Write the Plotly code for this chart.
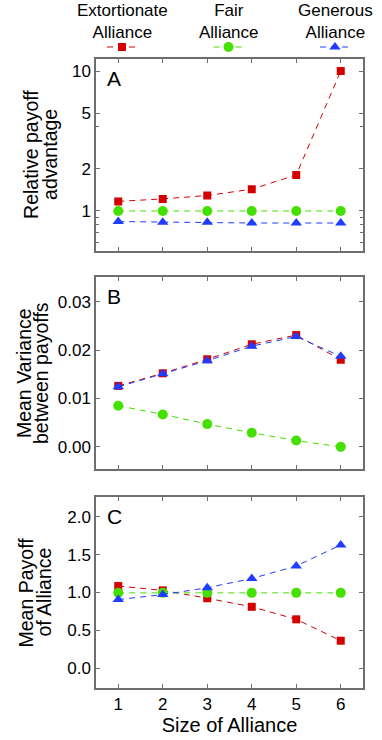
import plotly.graph_objects as go

# alliance sizes
sizes = [1, 2, 3, 4, 5, 6]

# panel A: relative payoff advantage (log scale)
adv_extort = [1.17, 1.22, 1.29, 1.43, 1.81, 10.0]
adv_fair = [1.0, 1.0, 1.0, 1.0, 1.0, 1.0]
adv_generous = [0.84, 0.83, 0.83, 0.82, 0.82, 0.82]

# panel B: mean variance between payoffs
var_extort = [0.0126, 0.0152, 0.0181, 0.0212, 0.0231, 0.0180]
var_fair = [0.0085, 0.0067, 0.0047, 0.0029, 0.0013, 0.0000]
var_generous = [0.0124, 0.0151, 0.0178, 0.0208, 0.0228, 0.0187]

# panel C: mean payoff of alliance
pay_extort = [1.085, 1.028, 0.924, 0.811, 0.646, 0.364]
pay_fair = [0.995, 0.995, 0.995, 0.995, 0.995, 0.995]
pay_generous = [0.907, 0.972, 1.063, 1.184, 1.349, 1.627]

series_names = ["Extortionate<br>Alliance", "Fair<br>Alliance", "Generous<br>Alliance"]
y_titles = [("Relative payoff", "advantage"),
            ("Mean Variance", "between payoffs"),
            ("Mean Payoff", "of Alliance")]
colors = ["#d40000", "#44e000", "#1f3cff"]
symbols = ["square", "circle", "triangle-up"]
msizes = [8, 10, 10]
legend_ids = ["legend", "legend2", "legend3"]

panels = [
    ("y", [adv_extort, adv_fair, adv_generous]),
    ("y2", [var_extort, var_fair, var_generous]),
    ("y3", [pay_extort, pay_fair, pay_generous]),
]

fig = go.Figure()

for p, (yref, data) in enumerate(panels):
    xref = "x" if p == 0 else "x%d" % (p + 1)
    for i, vals in enumerate(data):
        fig.add_trace(go.Scatter(
            x=sizes,
            y=vals,
            xaxis=xref,
            yaxis=yref,
            mode="lines+markers",
            name=" ",
            legend=legend_ids[i],
            showlegend=(p == 0),
            line=dict(color=colors[i], width=1, dash="6px,5px"),
            marker=dict(symbol=symbols[i], size=msizes[i], color=colors[i]),
            hovertemplate=series_names[i].replace("<br>", " ") + ": %{y}<extra></extra>",
        ))

font_family = "Liberation Sans, Arial, sans-serif"
frame = dict(
    showline=True, linecolor="#6e6e6e", linewidth=1.5, mirror="ticks",
    ticks="inside", ticklen=4, tickcolor="#6e6e6e", tickwidth=1.2,
    showgrid=False, zeroline=False, automargin=False,
    tickfont=dict(size=17, color="black"),
)

xcommon = dict(range=[0.5, 6.5], tickvals=sizes, **frame)

# one small legend per series, text is drawn above it as annotation
legends = {}
for i, lid in enumerate(legend_ids):
    legends[lid] = dict(
        orientation="h", x=(102 + 106.5 * i - 96) / 267, xanchor="left",
        y=1 + (59 - 47) / 629, yanchor="middle",
        font=dict(size=12), bgcolor="rgba(0,0,0,0)",
    )

fig.update_layout(
    width=382, height=740,
    margin=dict(l=96, r=19, t=59, b=52),
    paper_bgcolor="white", plot_bgcolor="white",
    font=dict(family=font_family, color="black"),
    xaxis=dict(domain=[0, 1], anchor="y", showticklabels=False, **xcommon),
    xaxis2=dict(domain=[0, 1], anchor="y2", showticklabels=False, **xcommon),
    xaxis3=dict(domain=[0, 1], anchor="y3", showticklabels=True,
                title=dict(text="Size of Alliance", font=dict(size=20), standoff=0),
                **xcommon),
    yaxis=dict(domain=[0.695, 1.0], anchor="x", type="log",
               range=[-0.285, 1.086], tickvals=[1, 2, 5, 10], ticktext=["1", "2", "5", "10"],
               minor=dict(tickvals=[0.6, 0.7, 0.8, 0.9, 4], ticks="inside", ticklen=3,
                          tickcolor="#6e6e6e"),
               **frame),
    yaxis2=dict(domain=[0.348, 0.6534], anchor="x2",
                range=[-0.0046, 0.0351], tickvals=[0, 0.01, 0.02, 0.03], tickformat=".2f",
                **frame),
    yaxis3=dict(domain=[0, 0.3037], anchor="x3",
                range=[-0.26, 2.26], tickvals=[0, 0.5, 1.0, 1.5, 2.0], tickformat=".1f",
                **frame),
    showlegend=True,
    **legends,
)

# legend labels above the legend symbols
for i, name in enumerate(series_names):
    fig.add_annotation(
        text=name, xref="paper", yref="paper",
        x=(122 + 106.5 * i - 96) / 267, y=1 + (59 - 21) / 629,
        xanchor="center", yanchor="middle", showarrow=False,
        font=dict(size=17), align="center",
    )

# y titles: two tightly spaced lines per panel (line centres in px from the left)
title_x = [(31, 50), (24, 41), (26, 44)]
for (line1, line2), (x1, x2), yr in zip(y_titles, title_x, ["y", "y2", "y3"]):
    for text, xpx in [(line1, x1), (line2, x2)]:
        fig.add_annotation(
            text=text, xref="paper", yref=yr + " domain",
            x=(xpx - 96) / 267, y=0.5, xanchor="center", yanchor="middle",
            textangle=-90, showarrow=False, font=dict(size=19.5),
        )

# panel letters
for letter, xr, yr in zip(["A", "B", "C"], ["x", "x2", "x3"], ["y", "y2", "y3"]):
    fig.add_annotation(
        text=letter, xref=xr + " domain", yref=yr + " domain",
        x=0.035, y=0.97, xanchor="left", yanchor="top",
        showarrow=False, font=dict(size=21),
    )

fig.write_html("out.html", config={"displayModeBar": False},
               post_script="document.body.style.margin='0';")
